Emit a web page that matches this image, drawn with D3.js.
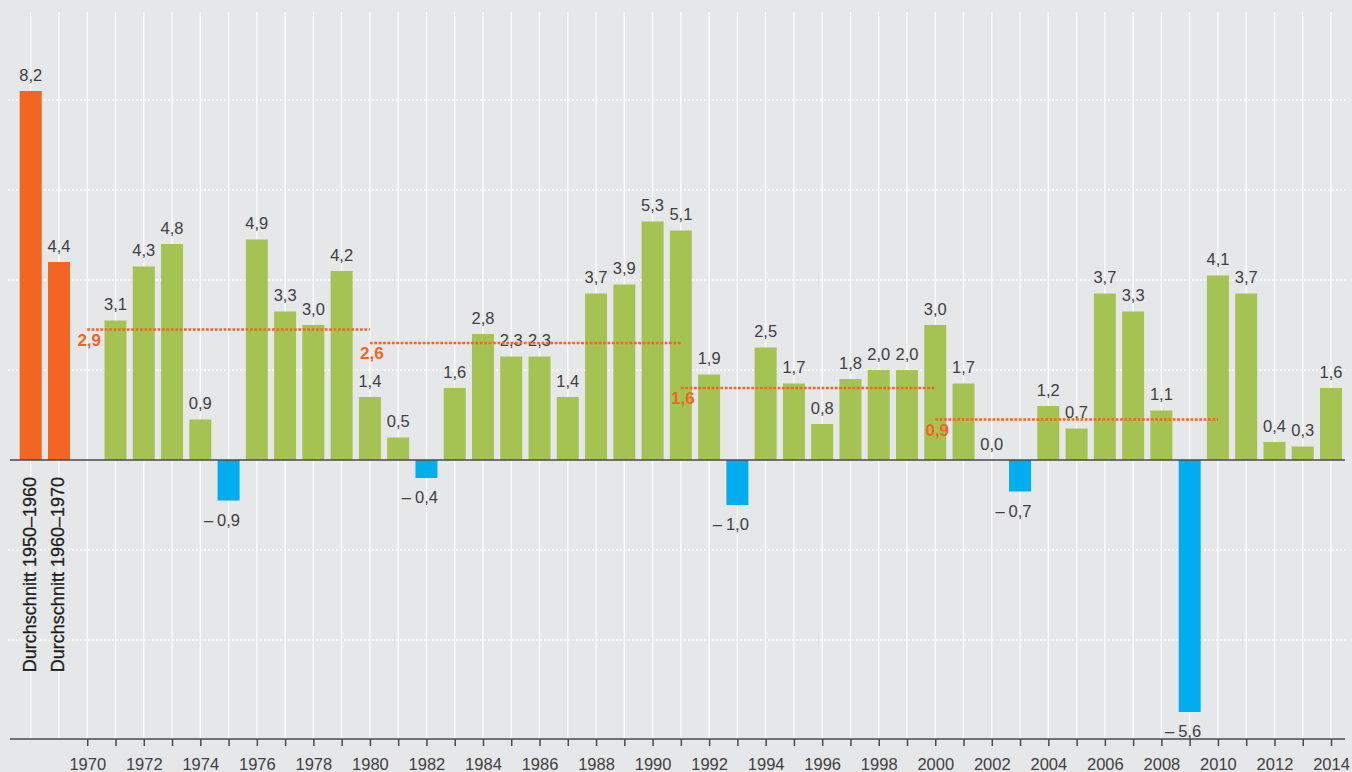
<!DOCTYPE html>
<html>
<head>
<meta charset="utf-8">
<script src="https://cdnjs.cloudflare.com/ajax/libs/d3/7.8.5/d3.min.js"></script>
<style>
  html, body { margin: 0; padding: 0; background: #e6e7e9; }
  svg { display: block; }
</style>
</head>
<body>
<svg id="chart" width="1352" height="772"></svg>
<script>
// decade averages shown as the first two (orange) bars
const avgLabels = ["Durchschnitt 1950\u20131960", "Durchschnitt 1960\u20131970"];
const avgValues = [8.2, 4.4];

// yearly growth, 1970 has no bar
const years = d3.range(1970, 2015);
const growth = [null, 3.1, 4.3, 4.8, 0.9, -0.9, 4.9, 3.3, 3.0, 4.2,
  1.4, 0.5, -0.4, 1.6, 2.8, 2.3, 2.3, 1.4, 3.7, 3.9,
  5.3, 5.1, 1.9, -1.0, 2.5, 1.7, 0.8, 1.8, 2.0, 2.0,
  3.0, 1.7, 0.0, -0.7, 1.2, 0.7, 3.7, 3.3, 1.1, -5.6,
  4.1, 3.7, 0.4, 0.3, 1.6];

// period averages (dotted orange lines)
const periodStart = [1970, 1980, 1991, 2000];
const periodEnd = [1980, 1991, 2000, 2010];
const periodValue = [2.9, 2.6, 1.6, 0.9];

const gridValues = [-4, -2, 2, 4, 6, 8];

const colors = { avg: "#f26522", pos: "#a5c352", neg: "#00adee", text: "#404040" };
const fontFamily = "'Liberation Sans', Arial, Helvetica, sans-serif";

const locale = d3.formatLocale({ decimal: ",", thousands: ".", grouping: [3], currency: ["", "€"] });
const fmt = locale.format(".1f");

const svg = d3.select("#chart");
const width = 1352;

const slots = ["a0", "a1"].concat(years.map(String));
const x = d3.scalePoint().domain(slots).range([30.7, 1331]);
const y = d3.scaleLinear().domain([-6.2, 10.2]).range([739, 1]);
const barW = 22;

const bars = avgValues.map((v, i) => ({ key: "a" + i, value: v, type: "avg" }))
  .concat(years.map((yr, i) => ({ key: String(yr), value: growth[i], type: growth[i] < 0 ? "neg" : "pos" })))
  .filter(d => d.value !== null);

svg.append("rect").attr("width", width).attr("height", 772).attr("fill", "#e6e7e9");

// vertical white gridlines
svg.append("g").selectAll("line")
  .data(slots)
  .join("line")
  .attr("x1", d => x(d)).attr("x2", d => x(d))
  .attr("y1", 12).attr("y2", y(-6.2))
  .attr("stroke", "#fbfbfb")
  .attr("stroke-width", 1.4);

// horizontal dotted gridlines
svg.append("g").selectAll("line")
  .data(gridValues)
  .join("line")
  .attr("x1", 8).attr("x2", 1347)
  .attr("y1", d => y(d)).attr("y2", d => y(d))
  .attr("stroke", "#fbfbfb")
  .attr("stroke-width", 1.4)
  .attr("stroke-dasharray", "2,2");

// bars
svg.append("g").selectAll("rect")
  .data(bars)
  .join("rect")
  .attr("x", d => x(d.key) - barW / 2)
  .attr("width", barW)
  .attr("y", d => y(Math.max(0, d.value)))
  .attr("height", d => Math.abs(y(d.value) - y(0)))
  .attr("fill", d => colors[d.type]);

// zero line
svg.append("line")
  .attr("x1", 10).attr("x2", 1345)
  .attr("y1", y(0)).attr("y2", y(0))
  .attr("stroke", "#4a4a4a")
  .attr("stroke-width", 1.5);

// value labels
const labels = svg.append("g")
  .style("font-family", fontFamily)
  .style("font-size", "16.5px")
  .attr("fill", colors.text);

bars.forEach(d => {
  const cx = x(d.key);
  if (d.value >= 0) {
    labels.append("text")
      .attr("x", cx).attr("y", y(d.value) - 10.5)
      .attr("text-anchor", "middle")
      .text(fmt(d.value));
  } else {
    const t = labels.append("text")
      .attr("x", cx).attr("y", y(d.value) + 25)
      .attr("text-anchor", "middle")
      .text(fmt(-d.value));
    const w = t.node().getComputedTextLength();
    labels.append("text")
      .attr("x", cx - w / 2 - 4).attr("y", y(d.value) + 25)
      .attr("text-anchor", "end")
      .text("\u2013");
  }
});

// period average lines
const periods = periodValue.map((v, i) => ({ start: String(periodStart[i]), end: String(periodEnd[i]), value: v }));
const pg = svg.append("g");
pg.selectAll("line")
  .data(periods)
  .join("line")
  .attr("x1", d => x(d.start)).attr("x2", d => x(d.end))
  .attr("y1", d => y(d.value)).attr("y2", d => y(d.value))
  .attr("stroke", colors.avg)
  .attr("stroke-width", 2.7)
  .attr("stroke-dasharray", "2.7,1.7");
pg.selectAll("text")
  .data(periods)
  .join("text")
  .attr("x", d => x(d.start) + 2)
  .attr("y", d => y(d.value) + 16)
  .attr("text-anchor", "middle")
  .style("font-family", fontFamily)
  .style("font-size", "17px")
  .style("font-weight", "bold")
  .attr("fill", colors.avg)
  .text(d => fmt(d.value));

// bottom axis
const axisY = y(-6.2);
const axis = svg.append("g")
  .attr("transform", `translate(0,${axisY})`)
  .call(d3.axisBottom(x)
    .tickValues(years.map(String))
    .tickSize(7)
    .tickFormat(d => (+d % 2 === 0 ? d : "")));
axis.select(".domain").remove();
axis.selectAll(".tick line").attr("stroke", "#4a4a4a").attr("stroke-width", 1.5);
axis.selectAll(".tick text")
  .attr("y", 31).attr("dy", null)
  .attr("fill", colors.text)
  .style("font-family", fontFamily)
  .style("font-size", "16.5px");
svg.append("line")
  .attr("x1", 10).attr("x2", 1345)
  .attr("y1", axisY).attr("y2", axisY)
  .attr("stroke", "#4a4a4a")
  .attr("stroke-width", 1.5);

// rotated labels for the decade averages
svg.append("g").selectAll("text")
  .data(avgLabels)
  .join("text")
  .attr("transform", (d, i) => `translate(${x("a" + i) + 5.5},477) rotate(-90)`)
  .attr("text-anchor", "end")
  .style("font-family", fontFamily)
  .style("font-size", "18px")
  .attr("fill", "#1e1e1e")
  .attr("stroke", "#1e1e1e")
  .attr("stroke-width", 0.3)
  .text(d => d);
</script>
</body>
</html>
